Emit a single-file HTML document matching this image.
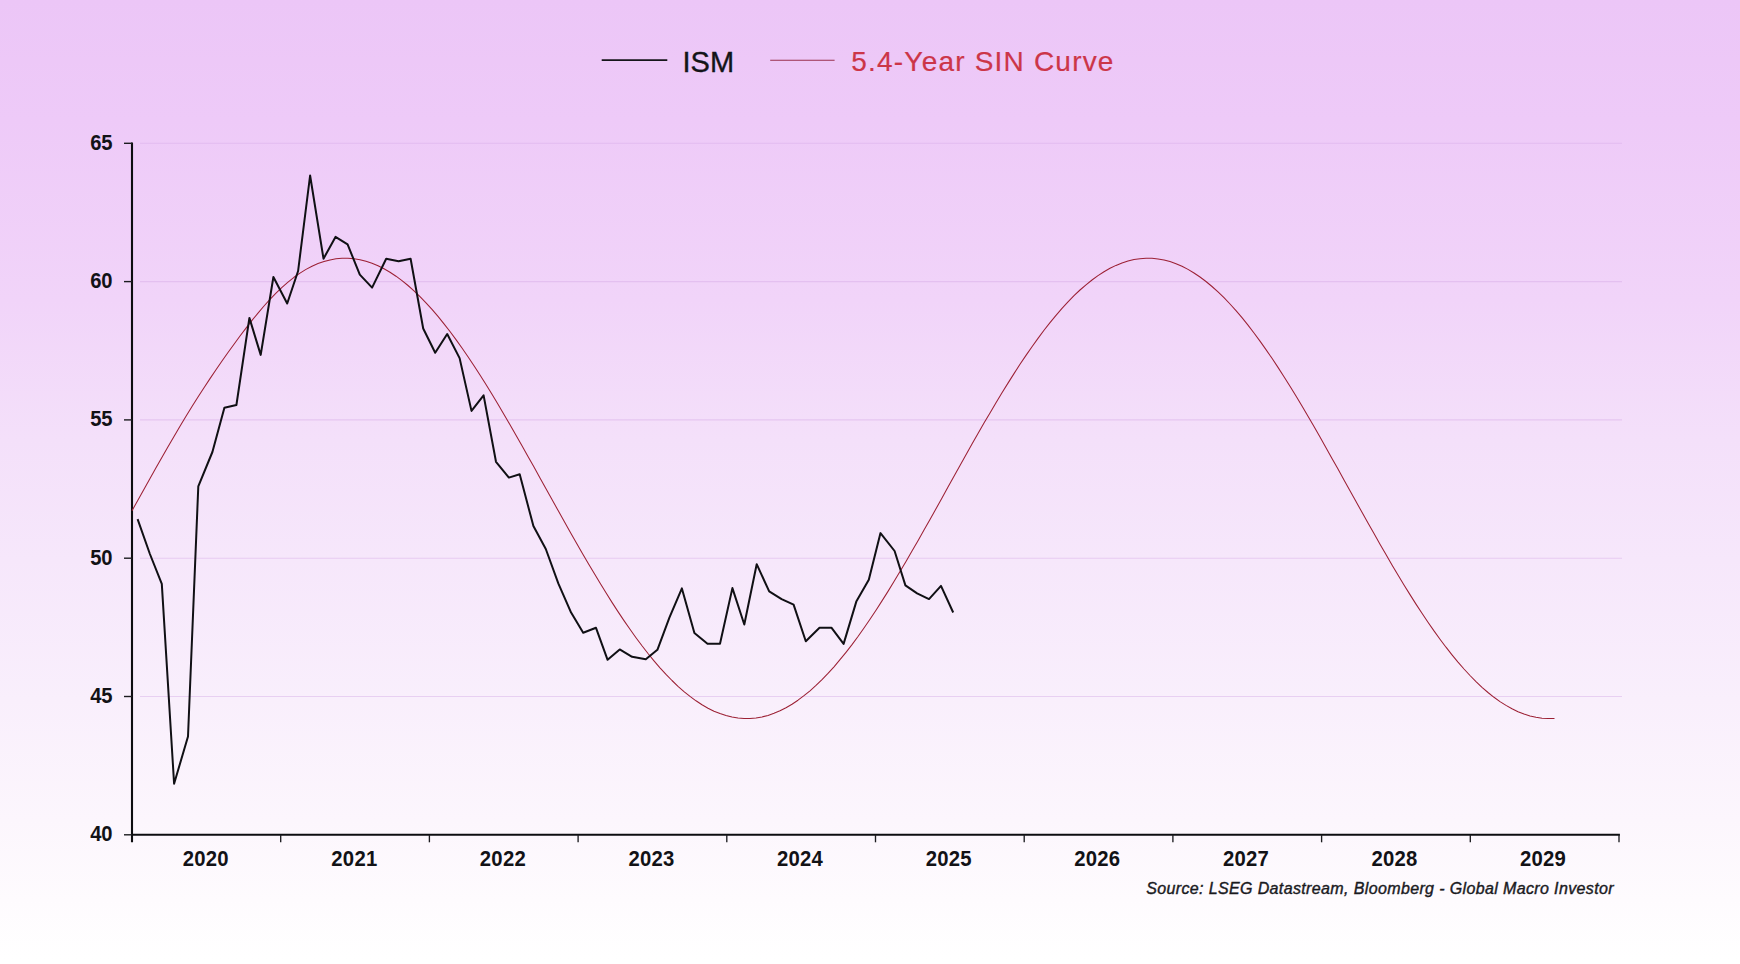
<!DOCTYPE html>
<html lang="en">
<head>
<meta charset="utf-8">
<title>ISM vs 5.4-Year SIN Curve</title>
<style>
html,body{margin:0;padding:0;}
body{width:1740px;height:964px;overflow:hidden;position:relative;font-family:"Liberation Sans",sans-serif;color:#111;
background:linear-gradient(to bottom,#ecc6f7 0px,#eecaf8 120px,#f1d4f9 300px,#f4e0fa 440px,#f6e7fb 560px,#f9effc 700px,#fcf6fd 820px,#fefbfe 900px,#ffffff 960px);}
svg{position:absolute;left:0;top:0;}
.yl{position:absolute;left:60.6px;width:52px;text-align:right;font-weight:bold;font-size:20.2px;line-height:24px;height:24px;color:#121216;transform:scaleY(1.07);transform-origin:50% 50%;}
.xl{position:absolute;top:846.6px;letter-spacing:0.25px;width:80px;text-align:center;font-weight:bold;font-size:20.3px;line-height:24px;height:24px;color:#121216;transform:scaleY(1.07);transform-origin:50% 50%;}
.lg{position:absolute;top:45px;height:34px;line-height:34px;white-space:nowrap;}
#l1{left:682.4px;font-size:29px;color:#141418;letter-spacing:0.1px;-webkit-text-stroke:0.35px #141418;}
#l2{left:851.3px;font-size:28px;color:#cc3548;letter-spacing:1.2px;-webkit-text-stroke:0.2px #cc3548;}
#src{position:absolute;top:879px;right:126px;font-style:italic;font-size:16px;line-height:20px;color:#1a1a1e;white-space:nowrap;letter-spacing:0.37px;-webkit-text-stroke:0.4px #1a1a1e;}
</style>
</head>
<body>
<svg width="1740" height="964" viewBox="0 0 1740 964">
<line x1="140" y1="696.5" x2="1622" y2="696.5" stroke="#d3a6e6" stroke-width="1.1" opacity="0.42"/>
<line x1="140" y1="558.2" x2="1622" y2="558.2" stroke="#d3a6e6" stroke-width="1.1" opacity="0.42"/>
<line x1="140" y1="419.9" x2="1622" y2="419.9" stroke="#d3a6e6" stroke-width="1.1" opacity="0.42"/>
<line x1="140" y1="281.6" x2="1622" y2="281.6" stroke="#d3a6e6" stroke-width="1.1" opacity="0.42"/>
<line x1="140" y1="143.3" x2="1622" y2="143.3" stroke="#d3a6e6" stroke-width="1.1" opacity="0.42"/>
<line x1="132.0" y1="142.4" x2="132.0" y2="842.3" stroke="#0d0d10" stroke-width="2.1"/>
<line x1="131.0" y1="834.8" x2="1619.9" y2="834.8" stroke="#0d0d10" stroke-width="2"/>
<line x1="124" y1="834.8" x2="132.0" y2="834.8" stroke="#1c1c20" stroke-width="1.4"/>
<line x1="124" y1="696.5" x2="132.0" y2="696.5" stroke="#1c1c20" stroke-width="1.4"/>
<line x1="124" y1="558.2" x2="132.0" y2="558.2" stroke="#1c1c20" stroke-width="1.4"/>
<line x1="124" y1="419.9" x2="132.0" y2="419.9" stroke="#1c1c20" stroke-width="1.4"/>
<line x1="124" y1="281.6" x2="132.0" y2="281.6" stroke="#1c1c20" stroke-width="1.4"/>
<line x1="124" y1="143.3" x2="132.0" y2="143.3" stroke="#1c1c20" stroke-width="1.4"/>
<line x1="280.7" y1="834.8" x2="280.7" y2="842.3" stroke="#1c1c20" stroke-width="1.35"/>
<line x1="429.4" y1="834.8" x2="429.4" y2="842.3" stroke="#1c1c20" stroke-width="1.35"/>
<line x1="578.1" y1="834.8" x2="578.1" y2="842.3" stroke="#1c1c20" stroke-width="1.35"/>
<line x1="726.8" y1="834.8" x2="726.8" y2="842.3" stroke="#1c1c20" stroke-width="1.35"/>
<line x1="875.5" y1="834.8" x2="875.5" y2="842.3" stroke="#1c1c20" stroke-width="1.35"/>
<line x1="1024.2" y1="834.8" x2="1024.2" y2="842.3" stroke="#1c1c20" stroke-width="1.35"/>
<line x1="1172.9" y1="834.8" x2="1172.9" y2="842.3" stroke="#1c1c20" stroke-width="1.35"/>
<line x1="1321.6" y1="834.8" x2="1321.6" y2="842.3" stroke="#1c1c20" stroke-width="1.35"/>
<line x1="1470.3" y1="834.8" x2="1470.3" y2="842.3" stroke="#1c1c20" stroke-width="1.35"/>
<line x1="1619.0" y1="834.8" x2="1619.0" y2="842.3" stroke="#1c1c20" stroke-width="1.35"/>
<polyline points="132.0,510.7 138.0,500.0 144.0,489.2 150.0,478.5 156.0,467.8 162.0,457.2 168.0,446.7 174.0,436.4 180.0,426.2 186.0,416.3 192.0,406.5 198.0,397.0 204.0,387.7 210.0,378.6 216.0,369.7 222.0,361.0 228.0,352.5 234.0,344.2 240.0,336.0 246.0,328.1 252.0,320.4 258.0,313.1 264.0,306.0 270.0,299.4 276.0,293.1 282.0,287.3 288.0,282.1 294.0,277.3 300.0,273.1 306.0,269.4 312.0,266.2 318.0,263.6 324.0,261.5 330.0,259.9 336.0,258.8 342.0,258.3 348.0,258.3 354.0,258.8 360.0,259.8 366.0,261.3 372.0,263.3 378.0,265.8 384.0,268.8 390.0,272.3 396.0,276.2 402.0,280.6 408.0,285.5 414.0,290.9 420.0,296.6 426.0,302.8 432.0,309.4 438.0,316.4 444.0,323.8 450.0,331.5 456.0,339.6 462.0,348.0 468.0,356.7 474.0,365.7 480.0,375.0 486.0,384.5 492.0,394.3 498.0,404.2 504.0,414.4 510.0,424.7 516.0,435.2 522.0,445.7 528.0,456.4 534.0,467.1 540.0,477.9 546.0,488.7 552.0,499.5 558.0,510.3 564.0,521.0 570.0,531.7 576.0,542.3 582.0,552.7 588.0,563.0 594.0,573.1 600.0,583.1 606.0,592.8 612.0,602.4 618.0,611.6 624.0,620.6 630.0,629.3 636.0,637.7 642.0,645.8 648.0,653.5 654.0,660.8 660.0,667.8 666.0,674.4 672.0,680.5 678.0,686.3 684.0,691.6 690.0,696.4 696.0,700.8 702.0,704.8 708.0,708.2 714.0,711.2 720.0,713.6 726.0,715.6 732.0,717.1 738.0,718.1 744.0,718.6 750.0,718.5 756.0,718.0 762.0,716.9 768.0,715.4 774.0,713.3 780.0,710.8 786.0,707.7 792.0,704.2 798.0,700.2 804.0,695.7 810.0,690.8 816.0,685.4 822.0,679.6 828.0,673.4 834.0,666.8 840.0,659.7 846.0,652.3 852.0,644.6 858.0,636.5 864.0,628.0 870.0,619.3 876.0,610.2 882.0,600.9 888.0,591.4 894.0,581.6 900.0,571.6 906.0,561.5 912.0,551.1 918.0,540.7 924.0,530.1 930.0,519.4 936.0,508.7 942.0,497.9 948.0,487.1 954.0,476.3 960.0,465.5 966.0,454.8 972.0,444.1 978.0,433.6 984.0,423.1 990.0,412.9 996.0,402.7 1002.0,392.8 1008.0,383.1 1014.0,373.6 1020.0,364.3 1026.0,355.4 1032.0,346.7 1038.0,338.4 1044.0,330.3 1050.0,322.6 1056.0,315.3 1062.0,308.4 1068.0,301.9 1074.0,295.7 1080.0,290.0 1086.0,284.8 1092.0,280.0 1098.0,275.6 1104.0,271.7 1110.0,268.3 1116.0,265.4 1122.0,262.9 1128.0,261.0 1134.0,259.6 1140.0,258.7 1146.0,258.2 1152.0,258.3 1158.0,258.9 1164.0,260.0 1170.0,261.6 1176.0,263.7 1182.0,266.3 1188.0,269.4 1194.0,273.0 1200.0,277.0 1206.0,281.5 1212.0,286.5 1218.0,291.9 1224.0,297.7 1230.0,304.0 1236.0,310.7 1242.0,317.7 1248.0,325.2 1254.0,333.0 1260.0,341.1 1266.0,349.6 1272.0,358.3 1278.0,367.4 1284.0,376.7 1290.0,386.3 1296.0,396.1 1302.0,406.1 1308.0,416.3 1314.0,426.6 1320.0,437.1 1326.0,447.7 1332.0,458.4 1338.0,469.1 1344.0,479.9 1350.0,490.7 1356.0,501.5 1362.0,512.3 1368.0,523.0 1374.0,533.6 1380.0,544.2 1386.0,554.6 1392.0,564.9 1398.0,575.0 1404.0,584.9 1410.0,594.6 1416.0,604.1 1422.0,613.3 1428.0,622.2 1434.0,630.9 1440.0,639.2 1446.0,647.2 1452.0,654.8 1458.0,662.1 1464.0,669.0 1470.0,675.5 1476.0,681.6 1482.0,687.3 1488.0,692.5 1494.0,697.3 1500.0,701.6 1506.0,705.4 1512.0,708.8 1518.0,711.7 1524.0,714.0 1530.0,715.9 1536.0,717.3 1542.0,718.2 1548.0,718.6 1554.0,718.5 1554.5,718.4" fill="none" stroke="#9c2034" stroke-width="1.05" stroke-linejoin="round"/>
<polyline points="137.6,519.2 149.9,554.0 161.8,583.9 174.1,783.7 188.0,736.5 198.3,486.3 212.4,452.0 224.4,407.8 236.4,405.0 249.4,317.9 260.7,354.9 273.4,277.0 287.2,303.5 298.1,271.0 310.1,175.5 323.5,258.7 335.5,236.9 347.6,244.4 359.8,274.6 372.1,287.6 386.2,258.7 398.6,261.2 410.6,258.7 423.2,328.5 435.2,352.8 447.2,334.0 459.6,358.1 471.5,410.9 483.6,395.4 496.0,461.8 508.9,477.6 519.7,474.3 533.4,526.1 545.8,549.0 558.3,583.4 571.1,612.6 583.2,632.8 596.0,627.8 607.6,659.8 619.7,649.4 632.1,656.8 645.8,659.3 657.4,649.8 669.5,617.4 681.9,588.4 694.4,633.0 707.5,643.7 720.0,643.8 732.4,588.1 744.3,624.5 756.7,564.2 769.2,591.4 781.6,599.1 793.6,604.6 805.8,641.2 819.5,627.7 831.4,627.7 843.6,643.9 856.3,601.6 868.8,579.7 880.5,533.1 894.6,551.0 905.4,585.4 917.1,593.4 929.0,599.1 941.0,585.9 953.2,612.5" fill="none" stroke="#101014" stroke-width="2" stroke-linejoin="round" stroke-linecap="butt"/>
<line x1="601.7" y1="60.2" x2="667.3" y2="60.2" stroke="#15151a" stroke-width="1.7"/>
<line x1="770.2" y1="60.2" x2="834.6" y2="60.2" stroke="#98304e" stroke-width="1.05"/>
</svg>
<div class="lg" id="l1">ISM</div>
<div class="lg" id="l2">5.4-Year SIN Curve</div>
<div class="yl" style="top:822.3px">40</div>
<div class="yl" style="top:684.0px">45</div>
<div class="yl" style="top:545.7px">50</div>
<div class="yl" style="top:407.4px">55</div>
<div class="yl" style="top:269.1px">60</div>
<div class="yl" style="top:130.8px">65</div>
<div class="xl" style="left:165.8px">2020</div>
<div class="xl" style="left:314.4px">2021</div>
<div class="xl" style="left:462.9px">2022</div>
<div class="xl" style="left:611.5px">2023</div>
<div class="xl" style="left:760.1px">2024</div>
<div class="xl" style="left:908.8px">2025</div>
<div class="xl" style="left:1057.3px">2026</div>
<div class="xl" style="left:1206.0px">2027</div>
<div class="xl" style="left:1354.5px">2028</div>
<div class="xl" style="left:1503.1px">2029</div>
<div id="src">Source: LSEG Datastream, Bloomberg - Global Macro Investor</div>
</body>
</html>
